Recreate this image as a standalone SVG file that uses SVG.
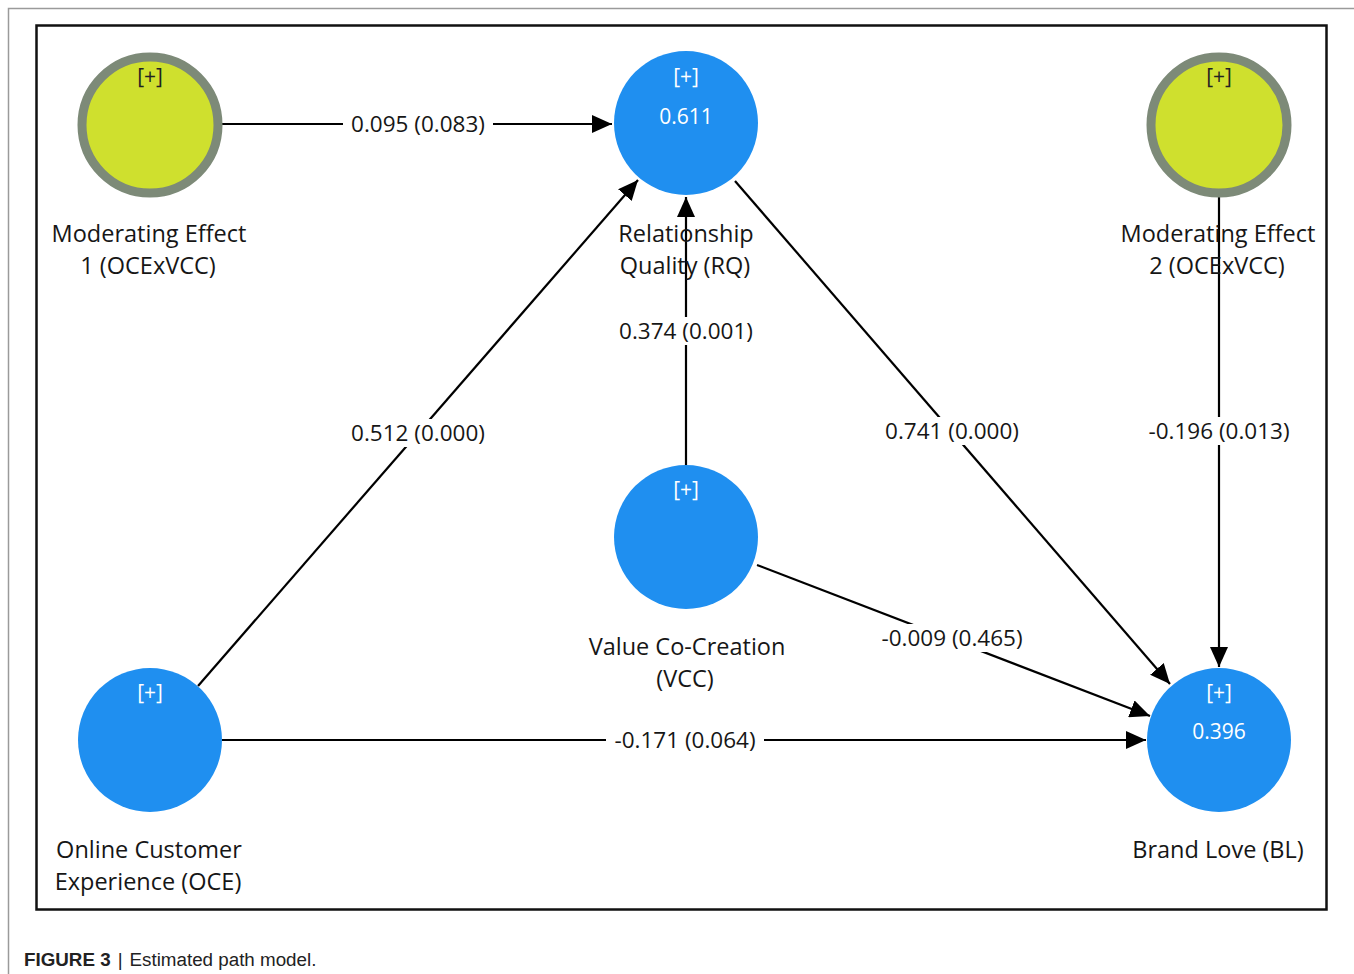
<svg xmlns="http://www.w3.org/2000/svg" width="1354" height="974" viewBox="0 0 1354 974">
<defs>
<marker id="ah" viewBox="0 0 20 18" refX="20" refY="9" markerWidth="20" markerHeight="18" markerUnits="userSpaceOnUse" orient="auto">
<path d="M0,0 L20,9 L0,18 Z" fill="#000"/>
</marker>
<style>
.edge{stroke:#000;stroke-width:2.2;fill:none;marker-end:url(#ah)}
.mod{fill:#cfe02e;stroke:#7d8a78;stroke-width:9}
.lv{fill:#1f8ff0}
.nl{font-family:"Open Sans","Noto Sans",sans-serif;font-size:23.5px;fill:#161616;text-anchor:middle}
.el{font-family:"Open Sans","Noto Sans",sans-serif;font-size:22.5px;fill:#161616;text-anchor:middle}
.pl{font-family:"Open Sans","Noto Sans",sans-serif;font-size:21px;text-anchor:middle}
.bg{fill:#fff}
</style>
</defs>
<rect x="0" y="0" width="1354" height="974" fill="#fff"/>
<path d="M8.5,974 V8.5 H1354" fill="none" stroke="#9a9a9a" stroke-width="1.5"/>
<rect x="36.5" y="25.5" width="1290" height="884" fill="#fff" stroke="#111" stroke-width="2.5"/>

<g id="connectors">
<line class="edge" x1="222" y1="124" x2="612" y2="124"/>
<line class="edge" x1="198" y1="686" x2="638" y2="180"/>
<line class="edge" x1="686" y1="465" x2="686" y2="197"/>
<line class="edge" x1="735" y1="181" x2="1170" y2="684"/>
<line class="edge" x1="1219" y1="197" x2="1219" y2="667"/>
<line class="edge" x1="757" y1="565" x2="1150" y2="716"/>
<line class="edge" x1="222" y1="740" x2="1146" y2="740"/>
<rect class="bg" x="343" y="110" width="150" height="28"/>
<text class="el" x="418" y="132">0.095 (0.083)</text>
<rect class="bg" x="343" y="419" width="150" height="28"/>
<text class="el" x="418" y="441">0.512 (0.000)</text>
<rect class="bg" x="611" y="317" width="150" height="28"/>
<text class="el" x="686" y="339">0.374 (0.001)</text>
<rect class="bg" x="877" y="417" width="150" height="28"/>
<text class="el" x="952" y="439">0.741 (0.000)</text>
<rect class="bg" x="1140" y="417" width="158" height="28"/>
<text class="el" x="1219" y="439">-0.196 (0.013)</text>
<rect class="bg" x="873" y="624" width="158" height="28"/>
<text class="el" x="952" y="646">-0.009 (0.465)</text>
<rect class="bg" x="606" y="726" width="158" height="28"/>
<text class="el" x="685" y="748">-0.171 (0.064)</text>
</g>

<g id="me1">
<circle class="mod" cx="150" cy="125" r="68"/>
<text class="pl" x="150" y="84" fill="#222">[+]</text>
<text class="nl" x="149" y="242">Moderating Effect</text>
<text class="nl" x="148" y="274">1 (OCExVCC)</text>
</g>

<g id="rq">
<circle class="lv" cx="686" cy="123" r="72"/>
<text class="pl" x="686" y="84" fill="#fff">[+]</text>
<text class="pl" x="686" y="124" fill="#fff" font-size="23">0.611</text>
<text class="nl" x="686" y="242">Relationship</text>
<text class="nl" x="685" y="274">Quality (RQ)</text>
</g>

<g id="me2">
<circle class="mod" cx="1219" cy="125" r="68"/>
<text class="pl" x="1219" y="84" fill="#222">[+]</text>
<text class="nl" x="1218" y="242">Moderating Effect</text>
<text class="nl" x="1217" y="274">2 (OCExVCC)</text>
</g>

<g id="vcc">
<circle class="lv" cx="686" cy="537" r="72"/>
<text class="pl" x="686" y="497" fill="#fff">[+]</text>
<text class="nl" x="687" y="655">Value Co-Creation</text>
<text class="nl" x="685" y="687">(VCC)</text>
</g>

<g id="oce">
<circle class="lv" cx="150" cy="740" r="72"/>
<text class="pl" x="150" y="700" fill="#fff">[+]</text>
<text class="nl" x="149" y="858">Online Customer</text>
<text class="nl" x="148" y="890">Experience (OCE)</text>
</g>

<g id="bl">
<circle class="lv" cx="1219" cy="740" r="72"/>
<text class="pl" x="1219" y="700" fill="#fff">[+]</text>
<text class="pl" x="1219" y="739" fill="#fff" font-size="23">0.396</text>
<text class="nl" x="1218" y="858">Brand Love (BL)</text>
</g>

<g id="caption">
<text x="24" y="966" font-family="Liberation Sans, Arial, sans-serif" font-size="18.8" fill="#222"><tspan font-weight="bold">FIGURE 3</tspan><tspan dx="7">|</tspan><tspan dx="7">Estimated path model.</tspan></text>
</g>
</svg>
